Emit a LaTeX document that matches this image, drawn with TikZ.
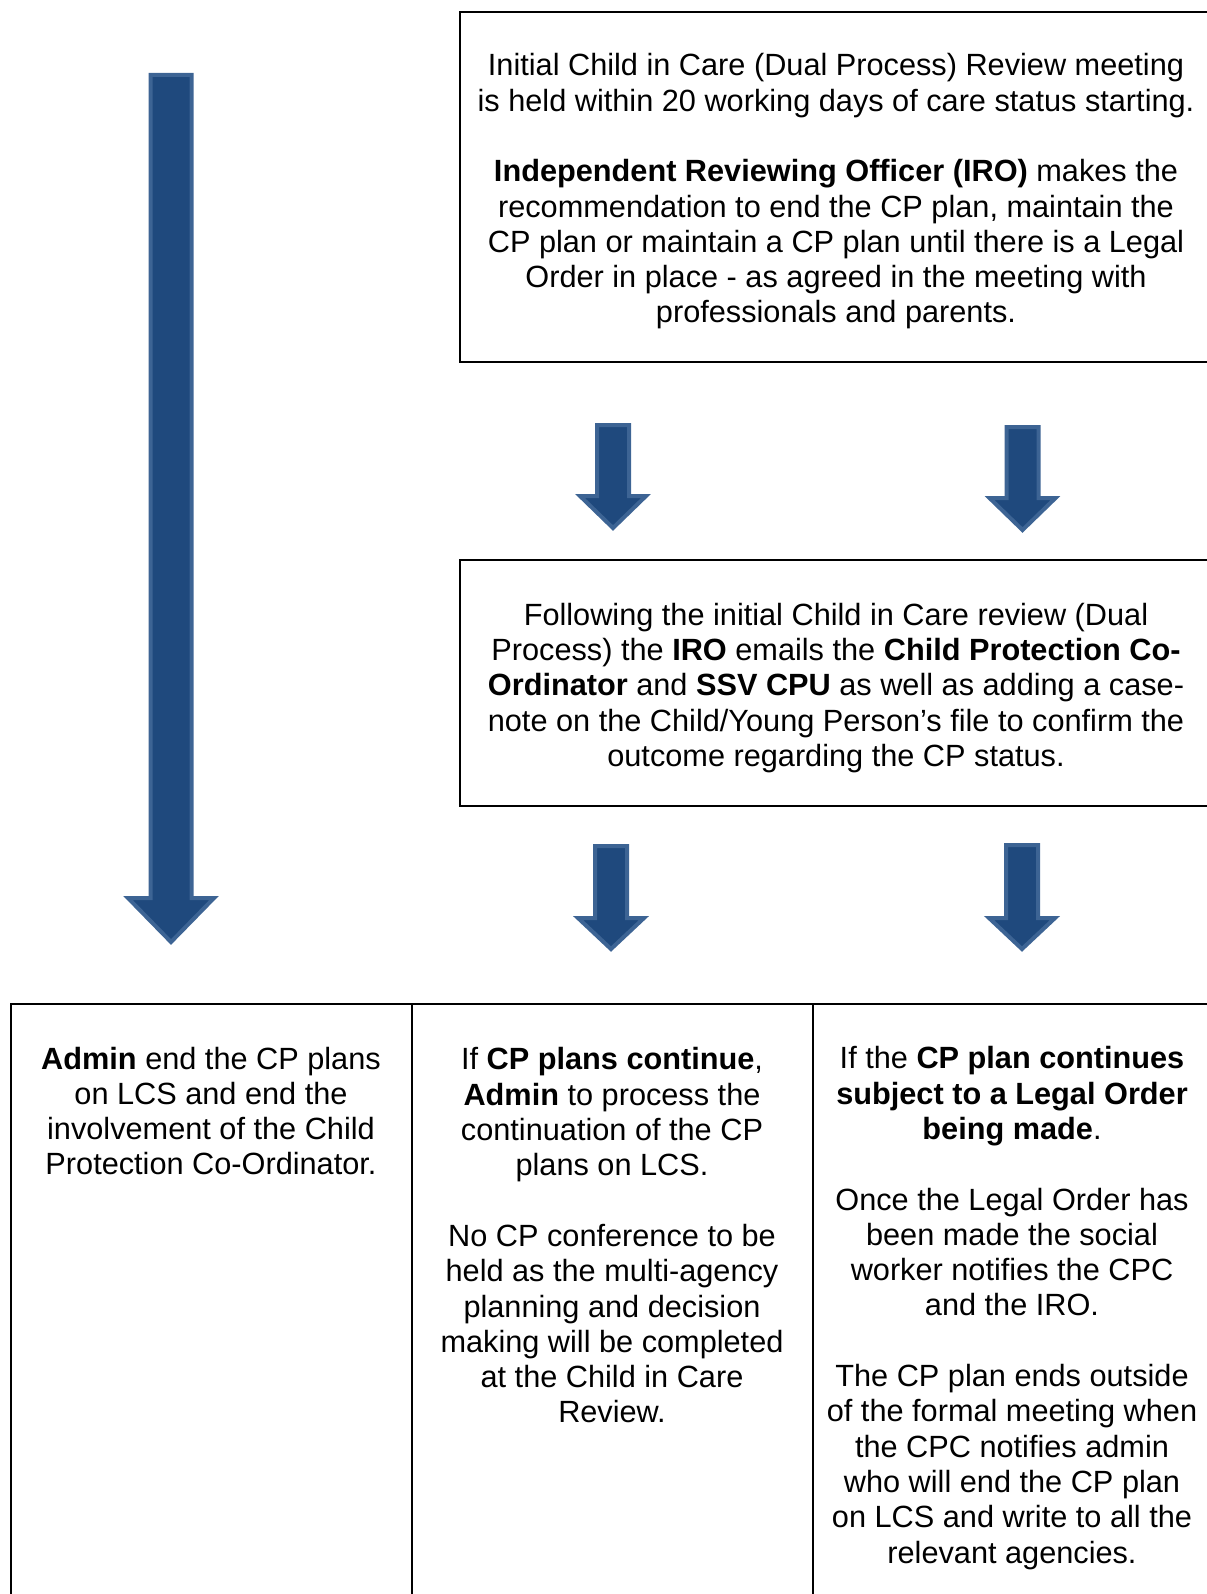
\documentclass[tikz,border=0pt]{standalone}
\usepackage{fontspec}
\setmainfont{Liberation Sans}
\definecolor{arrowfill}{HTML}{1F497D}
\definecolor{arrowedge}{HTML}{3D6494}
\tikzset{
  frame/.style={draw=black, line width=1pt},
  blockarrow/.style={fill=arrowfill, draw=arrowedge, line width=2pt, line join=miter},
  boxtext/.style={align=center, inner sep=0pt, font=\fontsize{15.35pt}{17.65pt}\selectfont}
}
\newcommand{\downblockarrow}[6]{%
  \draw[blockarrow] ({#1-#5},#2) -- ({#1+#5},#2) -- ({#1+#5},#3) -- ({#1+#6},#3)
    -- (#1,#4) -- ({#1-#6},#3) -- ({#1-#5},#3) -- cycle;}
\begin{document}
\begin{tikzpicture}[x=0.5pt, y=-0.5pt]
\useasboundingbox (0,0) rectangle (1206,1594);
% boxes
\draw[frame] (460,12) rectangle (1220,362);
\draw[frame] (460,560) rectangle (1220,806);
\draw[frame] (11,1004) rectangle (1220,1620);
\draw[frame] (412,1004) -- (412,1620);
\draw[frame] (812.5,1004) -- (812.5,1620);
% arrows
\downblockarrow{171}{75}{898}{942}{20.5}{43}
\downblockarrow{613}{425}{496}{528}{16}{33}
\downblockarrow{1022.5}{427}{498}{530}{16}{33}
\downblockarrow{611}{846}{918}{949}{16}{33}
\downblockarrow{1022}{845}{918}{949}{16}{33}
% texts
\node[boxtext] (toptext) at (836,191.5) {Initial Child in Care (Dual Process) Review meeting\\
is held within 20 working days of care status starting.\\[17.65pt]
\textbf{Independent Reviewing Officer (IRO)} makes the\\
recommendation to end the CP plan, maintain the\\
CP plan or maintain a CP plan until there is a Legal\\
Order in place - as agreed in the meeting with\\
professionals and parents.};
\node[boxtext] (midtext) at (836,688) {Following the initial Child in Care review (Dual\\
Process) the \textbf{IRO} emails the \textbf{Child Protection Co-}\\
\textbf{Ordinator} and \textbf{SSV CPU} as well as adding a case-\\
note on the Child/Young Person’s file to confirm the\\
outcome regarding the CP status.};
\node[boxtext] (coltext1) at (211,1111) {\textbf{Admin} end the CP plans\\
on LCS and end the\\
involvement of the Child\\
Protection Co-Ordinator.};
\node[boxtext] (coltext2) at (612,1235.5) {If \textbf{CP plans continue},\\
\textbf{Admin} to process the\\
continuation of the CP\\
plans on LCS.\\[17.65pt]
No CP conference to be\\
held as the multi-agency\\
planning and decision\\
making will be completed\\
at the Child in Care\\
Review.};
\node[boxtext] (coltext3) at (1012,1308) {If the \textbf{CP plan continues}\\
\textbf{subject to a Legal Order}\\
\textbf{being made}.\\[17.65pt]
Once the Legal Order has\\
been made the social\\
worker notifies the CPC\\
and the IRO.\\[17.65pt]
The CP plan ends outside\\
of the formal meeting when\\
the CPC notifies admin\\
who will end the CP plan\\
on LCS and write to all the\\
relevant agencies.};
\end{tikzpicture}
\end{document}
